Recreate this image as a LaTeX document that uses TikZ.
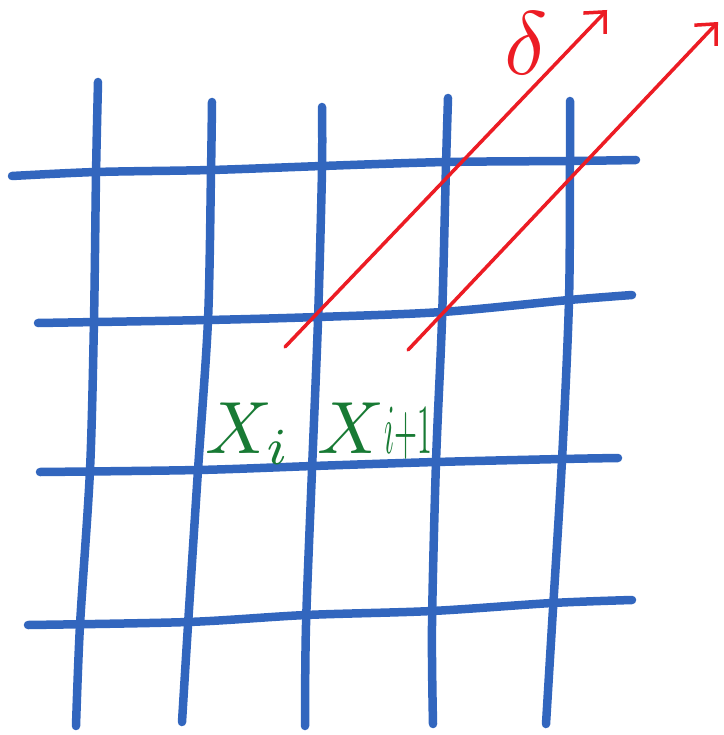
\documentclass[tikz,border=0pt]{standalone}
\usetikzlibrary{arrows.meta}
\definecolor{gridblue}{RGB}{50,102,190}
\definecolor{penred}{RGB}{236,28,36}
\definecolor{pengreen}{RGB}{24,122,52}
\begin{document}
\begin{tikzpicture}[x=1pt,y=-1pt,
  gridline/.style={draw=gridblue,line width=8.5pt,line cap=round,line join=round},
  ray/.style={draw=penred,line width=3.5pt,line cap=round,
    -{Straight Barb[length=16pt,width=30pt,line width=3.5pt]}},
  label/.style={text=pengreen,inner sep=0pt,anchor=base west,scale=7.4}]
\useasboundingbox (0,0) rectangle (723,735);
% vertical lines
\draw[gridline] plot[smooth,tension=0.5] coordinates {(98,82) (96,175) (94,320) (90,470) (80,625) (76,726)};
\draw[gridline] plot[smooth,tension=0.5] coordinates {(212,102) (211,172) (208,320) (198,470) (188,625) (182,722)};
\draw[gridline] plot[smooth,tension=0.5] coordinates {(322,107) (322,170) (318,320) (312,470) (306,625) (305,726)};
\draw[gridline] plot[smooth,tension=0.5] coordinates {(448,98) (446,165) (442,320) (436,462) (432,625) (433,724)};
\draw[gridline] plot[smooth,tension=0.5] coordinates {(570,101) (570,160) (569,300) (562,460) (552,625) (546,724)};
% horizontal lines
\draw[gridline] plot[smooth,tension=0.5] coordinates {(12,176) (96,172) (211,170) (322,166) (446,162) (570,161) (636,160)};
\draw[gridline] plot[smooth,tension=0.5] coordinates {(38,323) (208,320) (318,317) (442,312) (569,300) (632,295)};
\draw[gridline] plot[smooth,tension=0.5] coordinates {(40,472) (198,470) (313,466) (436,462) (562,459) (618,458)};
\draw[gridline] plot[smooth,tension=0.5] coordinates {(28,625) (188,622) (306,615) (432,611) (552,603) (632,600)};
% red rays
\coordinate (r1s) at (285,347);
\coordinate (r1e) at (607,10);
\coordinate (r2s) at (408,350);
\coordinate (r2e) at (718,22);
\draw[ray] (r1s) -- (r1e);
\draw[ray] (r2s) -- (r2e);
\node[text=penred,inner sep=0pt,scale=9] (delta) at (526,43) {$\delta$};
% labels
\node[label] (xi) at (204,453) {$X_i$};
\node[label] (xi1) at (316,453) {$X\scalebox{0.4}[0.95]{$i{+}1$}$};
\end{tikzpicture}
\end{document}
